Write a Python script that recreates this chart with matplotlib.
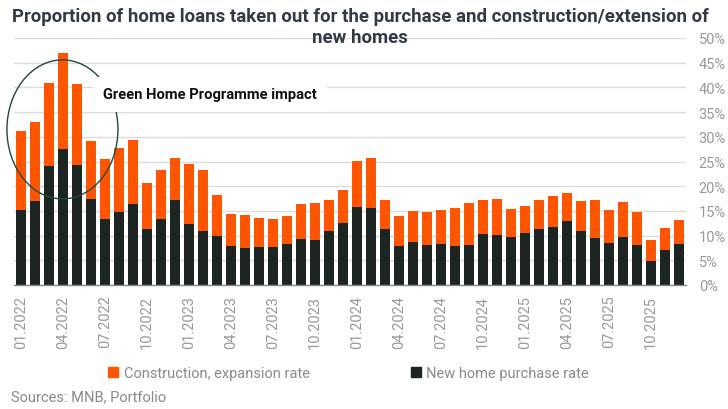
import matplotlib
matplotlib.use("Agg")
import matplotlib.pyplot as plt
import numpy as np
from matplotlib.patches import Ellipse
from matplotlib.lines import Line2D

plt.rcParams['font.family'] = ['Roboto', 'DejaVu Sans']

months = [f"{m:02d}.{y}" for y in range(2022, 2026) for m in range(1, 13)]

total_rate = [31.2, 33.0, 40.9, 47.0, 40.7, 29.1, 25.5, 27.7, 29.4, 20.6, 23.3, 25.7,
              24.5, 23.3, 18.2, 14.4, 14.2, 13.6, 13.4, 14.0, 16.4, 16.6, 17.2, 19.2,
              25.1, 25.7, 17.2, 14.0, 15.0, 14.8, 15.2, 15.6, 16.6, 17.2, 17.4, 15.4,
              16.0, 17.2, 18.0, 18.6, 17.0, 17.2, 15.2, 16.8, 14.8, 9.1, 11.5, 13.2]
new_home_purchase = [15.2, 17.0, 24.1, 27.5, 24.3, 17.4, 13.4, 14.8, 16.4, 11.3, 13.4, 17.2,
                     12.3, 10.9, 9.9, 7.9, 7.5, 7.7, 7.7, 8.3, 9.3, 9.1, 10.9, 12.5,
                     15.8, 15.6, 11.3, 7.9, 8.7, 8.1, 8.3, 7.9, 8.1, 10.3, 10.1, 9.7,
                     10.5, 11.3, 11.7, 12.9, 10.9, 9.5, 8.5, 9.7, 8.1, 4.9, 7.1, 8.3]
construction = [round(t - n, 1) for t, n in zip(total_rate, new_home_purchase)]

yticks = [0, 5, 10, 15, 20, 25, 30, 35, 40, 45, 50]

ORANGE = '#FF5400'
DARK = '#1C2521'
GRID = '#DCDCDC'
GRAY = '#999999'

fig = plt.figure(figsize=(7.28, 4.10), dpi=100)
ax = fig.add_axes([14/728, 1-286/410, 672/728, 247/410])

x = np.arange(len(months))
ax.bar(x, new_home_purchase, width=0.71, color=DARK, zorder=2)
ax.bar(x, construction, width=0.71, bottom=new_home_purchase, color=ORANGE, zorder=2)

ax.set_xlim(-0.5, len(months) - 0.5)
ax.set_ylim(0, 50)
ax.yaxis.tick_right()
ax.set_yticks(yticks)
ax.set_yticklabels([f"{v}%" for v in yticks], color=GRAY, fontsize=10.5)
ax.tick_params(axis='y', length=0, pad=9.2)
ax.set_xticks(x[::3])
ax.set_xticklabels(months[::3], rotation=90, color=GRAY, fontsize=10.5)
ax.tick_params(axis='x', length=0, pad=7)
ax.grid(axis='y', color=GRID, linewidth=1, zorder=0)
ax.set_axisbelow(True)
for s in ['top', 'left', 'right']:
    ax.spines[s].set_visible(False)
ax.spines['bottom'].set_color('#888888')
ax.spines['bottom'].set_linewidth(1)

# annotation ellipse and text (data coords)
ell = Ellipse((2.96, 31.5), width=111/14, height=139/4.94, fill=False,
              edgecolor='#1F4A3C', linewidth=1, zorder=3, clip_on=False)
ax.add_patch(ell)
ax.text(5.86, 38.6, "Green Home Programme impact", fontsize=10.6, fontweight='bold',
        color='#111111', va='center', ha='left', zorder=4,
        bbox=dict(boxstyle='square,pad=0.7', facecolor='white', edgecolor='none'))

title_lines = ["Proportion of home loans taken out for the purchase and construction/extension of",
               "new homes"]
for line, ypx in zip(title_lines, [17, 38]):
    fig.text(360/728, 1-ypx/410, line, ha='center', va='center', fontsize=13.4,
             fontweight='bold', color='#333A44')

handles = [Line2D([], [], marker='s', linestyle='none', color=ORANGE, markersize=7),
           Line2D([], [], marker='s', linestyle='none', color=DARK, markersize=7)]
fig.legend(handles, ["Construction, expansion rate", "New home purchase rate"],
           loc='center', bbox_to_anchor=(349/728, 1-374/410), ncol=2, frameon=False,
           fontsize=10.5, labelcolor='#8A8A8A', handlelength=0.6, handletextpad=0.4,
           columnspacing=7.0)

fig.text(11/728, 1-397/410, "Sources: MNB, Portfolio", ha='left', va='center',
         fontsize=10.5, color='#8A8A8A')

fig.savefig("out.png", dpi=100)
